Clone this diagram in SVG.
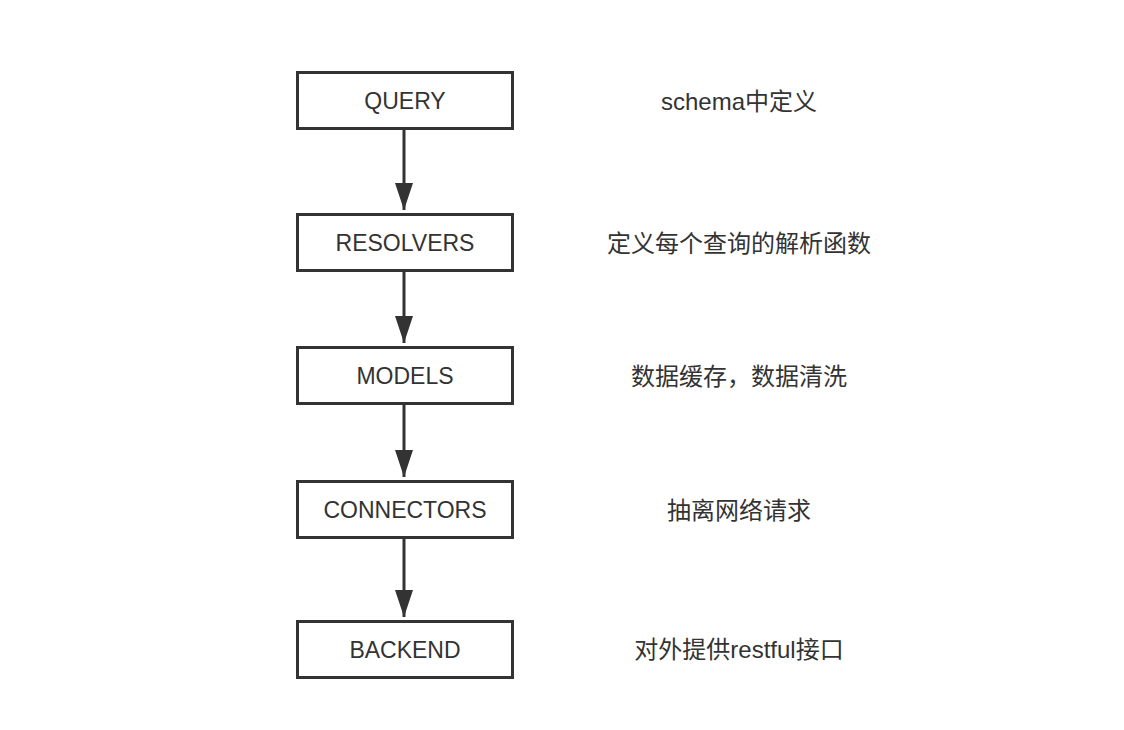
<svg xmlns="http://www.w3.org/2000/svg" width="1124" height="730" viewBox="0 0 1124 730">
<style>
.box{fill:#fff;stroke:#333;stroke-width:3}
.lbl{font-family:"Liberation Sans","Noto Sans",sans-serif;font-size:23px;fill:#333;text-anchor:middle;dominant-baseline:central}
.note{font-family:"Liberation Sans","Noto Sans CJK SC",sans-serif;font-size:24px;fill:#333;text-anchor:middle;dominant-baseline:central}
.edge{stroke:#333;stroke-width:3;fill:none}
</style>
<defs>
<marker id="arr" markerUnits="userSpaceOnUse" markerWidth="28" markerHeight="20" refX="27" refY="10" orient="auto" viewBox="0 0 28 20">
<path d="M0,1 L27,10 L0,19 Z" fill="#333"/>
</marker>
</defs>
<rect width="1124" height="730" fill="#fff"/>
<g id="connectors">
<line class="edge" x1="404" y1="129" x2="404" y2="210" marker-end="url(#arr)"/>
<line class="edge" x1="404" y1="271" x2="404" y2="343" marker-end="url(#arr)"/>
<line class="edge" x1="404" y1="404" x2="404" y2="477" marker-end="url(#arr)"/>
<line class="edge" x1="404" y1="538" x2="404" y2="617" marker-end="url(#arr)"/>
</g>
<g id="query"><rect class="box" x="297.5" y="72.5" width="215" height="56"/><text class="lbl" x="405" y="101">QUERY</text></g>
<g id="resolvers"><rect class="box" x="297.5" y="214.5" width="215" height="56"/><text class="lbl" x="405" y="243">RESOLVERS</text></g>
<g id="models"><rect class="box" x="297.5" y="347.5" width="215" height="56"/><text class="lbl" x="405" y="376">MODELS</text></g>
<g id="connectors-node"><rect class="box" x="297.5" y="481.5" width="215" height="56"/><text class="lbl" x="405" y="510">CONNECTORS</text></g>
<g id="backend"><rect class="box" x="297.5" y="621.5" width="215" height="56"/><text class="lbl" x="405" y="650">BACKEND</text></g>
<g id="notes">
<text class="note" x="739" y="101">schema中定义</text>
<text class="note" x="739" y="243">定义每个查询的解析函数</text>
<text class="note" x="739" y="376">数据缓存，数据清洗</text>
<text class="note" x="739" y="510">抽离网络请求</text>
<text class="note" x="739" y="649">对外提供restful接口</text>
</g>
</svg>
